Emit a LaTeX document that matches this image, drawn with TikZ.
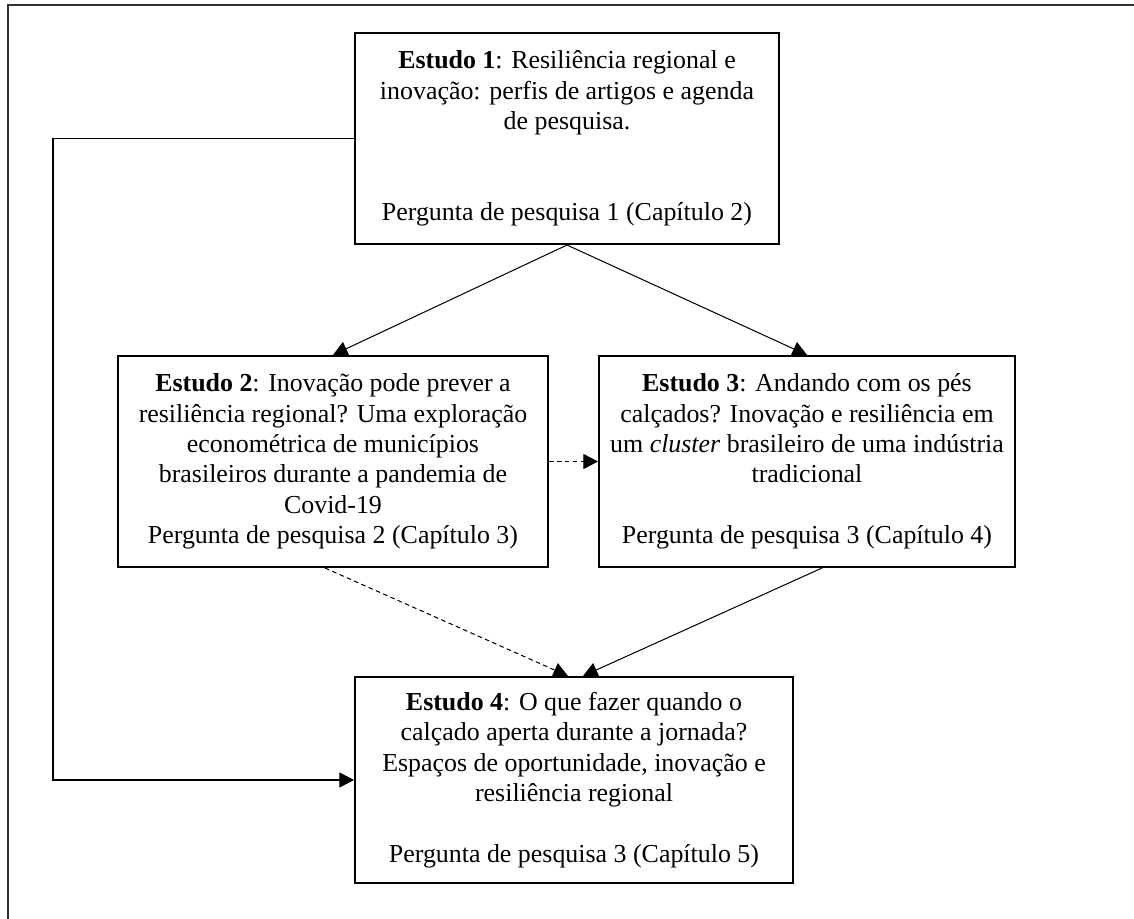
\documentclass[tikz,border=0pt]{standalone}
\usepackage{fontspec}
\setmainfont{Liberation Serif}
\usetikzlibrary{arrows.meta}
\begin{document}
\begin{tikzpicture}[x=0.44pt,y=-0.44pt,
  studybox/.style={draw, line width=0.9pt, inner sep=0pt, align=center,
    font=\fontsize{11.4pt}{13.4pt}\selectfont},
  conn/.style={line width=0.45pt, -{Triangle[length=6.4pt,width=6.6pt]}},
  dconn/.style={conn, dash pattern=on 2pt off 1.5pt},
  frameline/.style={line width=0.7pt, draw=black!80}]
\useasboundingbox (0,0) rectangle (1134,919);
\draw[frameline] (8,919) -- (8,5) -- (1134,5);

\node[studybox, minimum width=424*0.44pt, minimum height=211*0.44pt] (box1) at (567,138.5)
  {\textbf{Estudo 1}: Resiliência regional e\\ inovação: perfis de artigos e agenda\\ de pesquisa.\\ \mbox{}\\ \mbox{}\\ Pergunta de pesquisa 1 (Capítulo 2)};
\node[studybox, minimum width=430*0.44pt, minimum height=211*0.44pt] (box2) at (333,461.5)
  {\textbf{Estudo 2}: Inovação pode prever a\\ resiliência regional? Uma exploração\\ econométrica de municípios\\ brasileiros durante a pandemia de\\ Covid-19\\ Pergunta de pesquisa 2 (Capítulo 3)};
\node[studybox, minimum width=416*0.44pt, minimum height=211*0.44pt] (box3) at (807,461.5)
  {\textbf{Estudo 3}: Andando com os pés\\ calçados? Inovação e resiliência em\\ um \textit{cluster} brasileiro de uma indústria\\ tradicional\\ \mbox{}\\ Pergunta de pesquisa 3 (Capítulo 4)};
\node[studybox, minimum width=438*0.44pt, minimum height=206*0.44pt] (box4) at (574,780)
  {\textbf{Estudo 4}: O que fazer quando o\\ calçado aperta durante a jornada?\\ Espaços de oportunidade, inovação e\\ resiliência regional\\ \mbox{}\\ Pergunta de pesquisa 3 (Capítulo 5)};

\coordinate (leftrail) at (53,460);
\coordinate (t4a) at ([xshift=-6*0.44pt]box4.north);
\coordinate (t4b) at ([xshift=9*0.44pt]box4.north);

\draw[conn] (box1.south) -- (box2.north);
\draw[conn] (box1.south) -- (box3.north);
\draw[dconn] (box2.east) -- (box3.west);
\draw[dconn] ([xshift=-8*0.44pt]box2.south) -- (t4a);
\draw[conn] ([xshift=15*0.44pt]box3.south) -- (t4b);
\draw[conn] (box1.west) -| (leftrail) |- (box4.west);
\end{tikzpicture}
\end{document}
